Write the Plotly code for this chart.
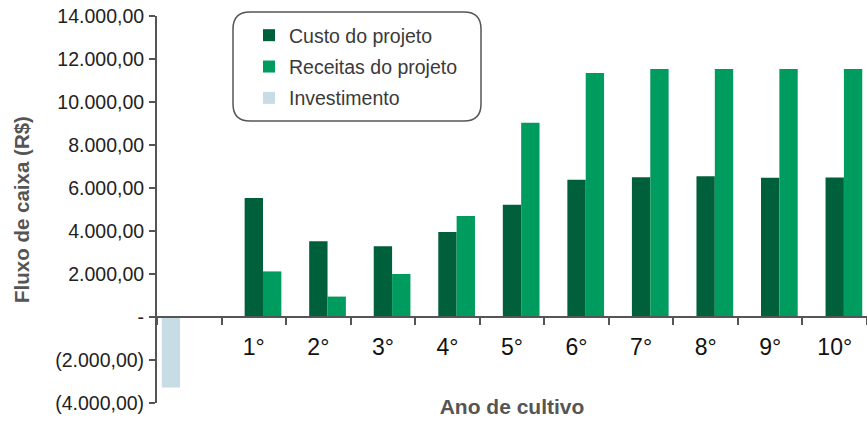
import plotly.graph_objects as go

categories = ["\u200b", "1°", "2°", "3°", "4°", "5°", "6°", "7°", "8°", "9°", "10°"]
invest_cat = ["\u200b"]
invest_values = [-3280]
year_cats = ["1°", "2°", "3°", "4°", "5°", "6°", "7°", "8°", "9°", "10°"]
custo_values = [5540, 3520, 3290, 3950, 5220, 6380, 6500, 6550, 6480, 6490]
receitas_values = [2120, 950, 2000, 4700, 9040, 11350, 11530, 11530, 11530, 11530]
y_tickvals = [-4000, -2000, 0, 2000, 4000, 6000, 8000, 10000, 12000, 14000]
y_ticktext = ["(4.000,00)", "(2.000,00)", "-", "2.000,00", "4.000,00", "6.000,00",
              "8.000,00", "10.000,00", "12.000,00", "14.000,00"]

W, H = 867, 421
ML, MR, MT, MB = 157, 0, 16, 18
PW, PH = W - ML - MR, H - MT - MB
FONT = "Liberation Sans, Arial, sans-serif"

def px(x):
    return (x - ML) / PW

def py(y):
    return (H - MB - y) / PH

fig = go.Figure()
fig.add_trace(go.Bar(name="Investimento", x=invest_cat, y=invest_values,
                     marker=dict(color="#C8DCE5", line=dict(width=0)),
                     legendrank=3, legendgroup="c"))
fig.add_trace(go.Bar(name="Custo do projeto", x=year_cats, y=custo_values,
                     marker=dict(color="#00603B", line=dict(width=0)),
                     legendrank=1, legendgroup="a"))
fig.add_trace(go.Bar(name="Receitas do projeto", x=year_cats, y=receitas_values,
                     marker=dict(color="#009B5E", line=dict(width=0)),
                     legendrank=2, legendgroup="b"))

# rounded legend frame
x0, x1, y0, y1, r = 233, 481, 12, 121, 17
rx, ry = r / PW, r / PH
X0, X1, Y0, Y1 = px(x0), px(x1), py(y1), py(y0)
path = (f"M{X0+rx},{Y1} L{X1-rx},{Y1} Q{X1},{Y1} {X1},{Y1-ry} "
        f"L{X1},{Y0+ry} Q{X1},{Y0} {X1-rx},{Y0} L{X0+rx},{Y0} "
        f"Q{X0},{Y0} {X0},{Y0+ry} L{X0},{Y1-ry} Q{X0},{Y1} {X0+rx},{Y1} Z")

fig.update_layout(
    width=W, height=H,
    margin=dict(l=ML, r=MR, t=MT, b=MB),
    paper_bgcolor="white", plot_bgcolor="white",
    barmode="group", bargap=0.147, bargroupgap=0,
    font=dict(family=FONT),
    showlegend=True,
    legend=dict(x=px(249), y=py(16), xanchor="left", yanchor="top",
                bgcolor="rgba(0,0,0,0)", borderwidth=0,
                font=dict(size=19.5, color="#3a3a3a", family=FONT),
                tracegroupgap=3, itemclick=False),
    shapes=[dict(type="path", xref="paper", yref="paper", path=path,
                 line=dict(color="#555555", width=1.5), fillcolor="rgba(0,0,0,0)",
                 layer="above")],
    xaxis=dict(type="category", categoryorder="array", categoryarray=categories,
               anchor="free", position=4000 / 18000,
               showline=True, linecolor="#555555", linewidth=2,
               ticks="outside", tickson="boundaries", ticklen=7, tickwidth=2,
               tickcolor="#555555", showgrid=False, zeroline=False,
               tickfont=dict(size=23, color="#111111", family=FONT),
               ticklabelstandoff=9,
               title=dict(text="<b>Ano de cultivo</b>", standoff=40,
                          font=dict(size=21, color="#555555", family=FONT))),
    yaxis=dict(range=[-4000, 14000], tickmode="array", tickvals=y_tickvals,
               ticktext=y_ticktext, showline=True, linecolor="#555555", linewidth=2,
               ticks="outside", ticklen=6, tickwidth=2, tickcolor="#555555",
               showgrid=False, zeroline=False,
               tickfont=dict(size=19.5, color="#222222", family=FONT),
               ticklabelstandoff=1,
               title=dict(text="<b>Fluxo de caixa (R$)</b>", standoff=20,
                          font=dict(size=20.5, color="#555555", family=FONT))),
)

fig.write_html("out.html")
